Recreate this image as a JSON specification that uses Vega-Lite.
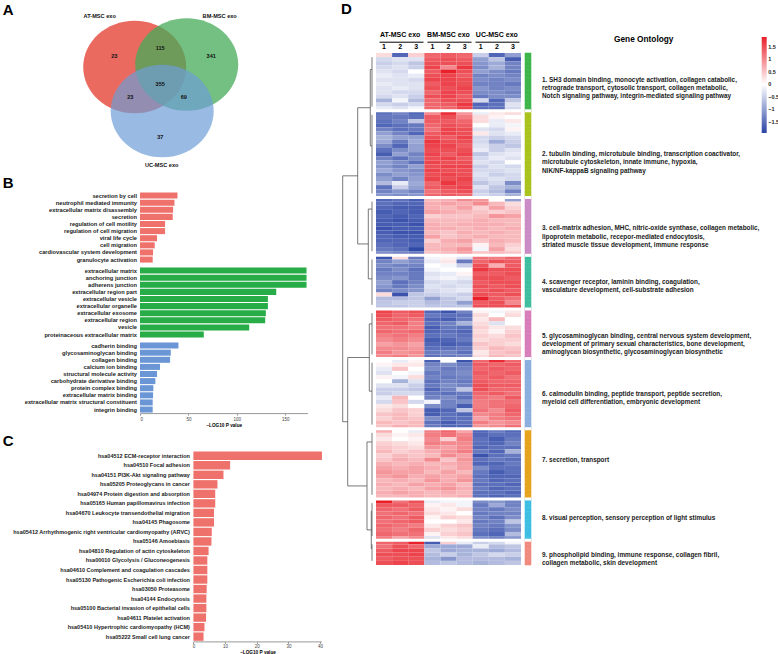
{
"$schema": "https://vega.github.io/schema/vega-lite/v6.json",
"padding": {"left": 2, "top": 2, "right": 0, "bottom": 0},
"config": {"view": {"stroke": null}, "font": "Liberation Sans", "axis": {"grid": false}, "title": {"fontSize": 15, "fontWeight": "bold", "color": "#000"}},
"datasets": {
"venn_sets": [
{"set": "AT-MSC exo", "cx": -0.52, "cy": 0.38, "lx": -1.22, "ly": 1.41},
{"set": "BM-MSC exo", "cx": 0.52, "cy": 0.43, "lx": 1.18, "ly": 1.41},
{"set": "UC-MSC exo", "cx": 0.03, "cy": -0.5, "lx": 0.02, "ly": -1.57}],
"venn_counts": [
{"region": "AT only", "n": 23, "lx": -0.93, "ly": 0.61},
{"region": "AT & BM", "n": 115, "lx": -0.01, "ly": 0.77},
{"region": "BM only", "n": 341, "lx": 1.01, "ly": 0.61},
{"region": "all", "n": 355, "lx": -0.01, "ly": 0.05},
{"region": "AT & UC", "n": 23, "lx": -0.61, "ly": -0.22},
{"region": "BM & UC", "n": 69, "lx": 0.46, "ly": -0.22},
{"region": "UC only", "n": 37, "lx": -0.01, "ly": -1.02}],
"go_bar": [
{"ont": "BP", "term": "secretion by cell", "v": 38.7},
{"ont": "BP", "term": "neutrophil mediated immunity", "v": 35.6},
{"ont": "BP", "term": "extracellular matrix disassembly", "v": 34.2},
{"ont": "BP", "term": "secretion", "v": 33.8},
{"ont": "BP", "term": "regulation of cell motility", "v": 25.9},
{"ont": "BP", "term": "regulation of cell migration", "v": 25.9},
{"ont": "BP", "term": "viral life cycle", "v": 17.6},
{"ont": "BP", "term": "cell migration", "v": 15.2},
{"ont": "BP", "term": "cardiovascular system development", "v": 13.5},
{"ont": "BP", "term": "granulocyte activation", "v": 13.1},
{"ont": "CC", "term": "extracellular matrix", "v": 172},
{"ont": "CC", "term": "anchoring junction", "v": 172},
{"ont": "CC", "term": "adherens junction", "v": 172},
{"ont": "CC", "term": "extracellular region part", "v": 140.7},
{"ont": "CC", "term": "extracellular vesicle", "v": 132.1},
{"ont": "CC", "term": "extracellular organelle", "v": 132.1},
{"ont": "CC", "term": "extracellular exosome", "v": 130},
{"ont": "CC", "term": "extracellular region", "v": 129.3},
{"ont": "CC", "term": "vesicle", "v": 112.8},
{"ont": "CC", "term": "proteinaceous extracellular matrix", "v": 65.9},
{"ont": "MF", "term": "cadherin binding", "v": 39.7},
{"ont": "MF", "term": "glycosaminoglycan binding", "v": 31.8},
{"ont": "MF", "term": "collagen binding", "v": 31.1},
{"ont": "MF", "term": "calcium ion binding", "v": 20.7},
{"ont": "MF", "term": "structural molecule activity", "v": 17.6},
{"ont": "MF", "term": "carbohydrate derivative binding", "v": 15.9},
{"ont": "MF", "term": "protein complex binding", "v": 13.8},
{"ont": "MF", "term": "extracellular matrix binding", "v": 13.5},
{"ont": "MF", "term": "extracellular matrix structural constituent", "v": 13.1},
{"ont": "MF", "term": "integrin binding", "v": 13.1}],
"kegg": [
{"t": "hsa04512 ECM-receptor interaction", "v": 40.6},
{"t": "hsa04510 Focal adhesion", "v": 11.6},
{"t": "hsa04151 PI3K-Akt signaling pathway", "v": 9.5},
{"t": "hsa05205 Proteoglycans in cancer", "v": 7.6},
{"t": "hsa04974 Protein digestion and absorption", "v": 6.9},
{"t": "hsa05165 Human papillomavirus infection", "v": 6.9},
{"t": "hsa04670 Leukocyte transendothelial migration", "v": 6.5},
{"t": "hsa04145 Phagosome", "v": 6.5},
{"t": "hsa05412 Arrhythmogenic right ventricular cardiomyopathy (ARVC)", "v": 5.8},
{"t": "hsa05146 Amoebiasis", "v": 5.7},
{"t": "hsa04810 Regulation of actin cytoskeleton", "v": 4.8},
{"t": "hsa00010 Glycolysis / Gluconeogenesis", "v": 4.4},
{"t": "hsa04610 Complement and coagulation cascades", "v": 4.4},
{"t": "hsa05130 Pathogenic Escherichia coli infection", "v": 4.4},
{"t": "hsa03050 Proteasome", "v": 4.2},
{"t": "hsa04144 Endocytosis", "v": 4.1},
{"t": "hsa05100 Bacterial invasion of epithelial cells", "v": 4.1},
{"t": "hsa04611 Platelet activation", "v": 4.0},
{"t": "hsa05410 Hypertrophic cardiomyopathy (HCM)", "v": 3.5},
{"t": "hsa05222 Small cell lung cancer", "v": 3.2}],
"dendro": [
{"h1": 0, "h2": 0, "y1": 1, "y2": 13},
{"h1": 0, "h2": 0, "y1": 15, "y2": 34},
{"h1": 0, "h2": 0, "y1": 36, "y2": 48},
{"h1": 0, "h2": 0, "y1": 50, "y2": 61},
{"h1": 0, "h2": 0, "y1": 63, "y2": 73},
{"h1": 0, "h2": 0, "y1": 75, "y2": 90},
{"h1": 0, "h2": 0, "y1": 92, "y2": 107},
{"h1": 0, "h2": 0, "y1": 109, "y2": 117},
{"h1": 0, "h2": 0, "y1": 119, "y2": 123},
{"h1": 0, "h2": 0.57, "y1": 4, "y2": 4},
{"h1": 0, "h2": 0.57, "y1": 22.5, "y2": 22.5},
{"h1": 0.57, "h2": 0.57, "y1": 4, "y2": 22.5},
{"h1": 0.57, "h2": 4.77, "y1": 13.25, "y2": 13.25},
{"h1": 0, "h2": 1.23, "y1": 37.8, "y2": 37.8},
{"h1": 0, "h2": 1.23, "y1": 54.7, "y2": 54.7},
{"h1": 1.23, "h2": 1.23, "y1": 37.8, "y2": 54.7},
{"h1": 1.23, "h2": 4.77, "y1": 46.25, "y2": 46.25},
{"h1": 4.77, "h2": 4.77, "y1": 13.25, "y2": 46.25},
{"h1": 4.77, "h2": 9.77, "y1": 29.75, "y2": 29.75},
{"h1": 0, "h2": 0.9, "y1": 65.6, "y2": 65.6},
{"h1": 0, "h2": 0.9, "y1": 81.9, "y2": 81.9},
{"h1": 0.9, "h2": 0.9, "y1": 65.6, "y2": 81.9},
{"h1": 0.9, "h2": 8.1, "y1": 73.75, "y2": 73.75},
{"h1": 0, "h2": 0.23, "y1": 111, "y2": 111},
{"h1": 0, "h2": 0.23, "y1": 120, "y2": 120},
{"h1": 0.23, "h2": 0.23, "y1": 111, "y2": 120},
{"h1": 0, "h2": 1.67, "y1": 94.2, "y2": 94.2},
{"h1": 0.23, "h2": 1.67, "y1": 115.5, "y2": 115.5},
{"h1": 1.67, "h2": 1.67, "y1": 94.2, "y2": 115.5},
{"h1": 1.67, "h2": 8.1, "y1": 104.85, "y2": 104.85},
{"h1": 8.1, "h2": 8.1, "y1": 73.75, "y2": 104.85},
{"h1": 8.1, "h2": 9.77, "y1": 89.3, "y2": 89.3},
{"h1": 9.77, "h2": 9.77, "y1": 29.75, "y2": 89.3}],
"seps": [{"id": "g014"}, {"id": "g035"}, {"id": "g049"}, {"id": "g062"}, {"id": "g074"}, {"id": "g091"}, {"id": "g108"}, {"id": "g118"}],
"golab": [
{"at": "g006", "lines": ["1. SH3 domain binding, monocyte activation, collagen catabolic,", "\u00a0\u00a0\u00a0\u00a0retrograde transport, cytosolic transport, collagen metabolic,", "\u00a0\u00a0\u00a0\u00a0Notch signaling pathway, integrin-mediated signaling pathway"]},
{"at": "g024", "lines": ["2. tubulin binding, microtubule binding, transcription coactivator,", "\u00a0\u00a0\u00a0\u00a0microtubule cytoskeleton,  innate immune, hypoxia,", "\u00a0\u00a0\u00a0\u00a0NIK/NF-kappaB signaling pathway"]},
{"at": "g042", "lines": ["3. cell-matrix adhesion, MHC, nitric-oxide synthase, collagen metabolic,", "\u00a0\u00a0\u00a0\u00a0lipoprotein metabolic, recepor-mediated endocytosis,", "\u00a0\u00a0\u00a0\u00a0striated muscle tissue development, immune response"]},
{"at": "g055", "lines": ["4. scavenger receptor, laminin binding,  coagulation,", "\u00a0\u00a0\u00a0\u00a0vasculature development, cell-substrate adhesion"]},
{"at": "g068", "lines": ["5. glycosaminoglycan binding, central nervous system development,", "\u00a0\u00a0\u00a0\u00a0development of primary sexual characteristics, bone development,", "\u00a0\u00a0\u00a0\u00a0aminoglycan biosynthetic, glycosaminoglycan biosynthetic"]},
{"at": "g082", "lines": ["6. calmodulin binding, peptide transport, peptide secretion,", "\u00a0\u00a0\u00a0\u00a0myeloid cell differentiation, embryonic development"]},
{"at": "g098", "lines": ["7. secretion, transport"]},
{"at": "g112", "lines": ["8. visual perception, sensory perception of light stimulus"]},
{"at": "g121", "lines": ["9. phospholipid binding, immune response, collagen fibril,", "\u00a0\u00a0\u00a0\u00a0collagen metabolic, skin development"]}],
"heat": [
{"id":"g000","c":1,"A1":0.3,"A2":-1.6,"A3":0.4,"B1":1.3,"B2":1.4,"B3":1.3,"U1":-0.5,"U2":-1.6,"U3":-1.0},
{"id":"g001","c":1,"A1":-0.4,"A2":-0.3,"A3":-0.3,"B1":1.4,"B2":1.5,"B3":1.4,"U1":-1.0,"U2":-0.6,"U3":-1.7},
{"id":"g002","c":1,"A1":-0.5,"A2":-0.4,"A3":-0.6,"B1":1.5,"B2":1.5,"B3":1.5,"U1":-1.1,"U2":-0.9,"U3":-1.3},
{"id":"g003","c":1,"A1":-0.4,"A2":-0.3,"A3":-0.5,"B1":1.6,"B2":1.0,"B3":1.7,"U1":-1.2,"U2":-0.8,"U3":-1.3},
{"id":"g004","c":1,"A1":-0.3,"A2":-0.4,"A3":0.0,"B1":1.4,"B2":1.9,"B3":1.5,"U1":-1.0,"U2":-1.2,"U3":-1.4},
{"id":"g005","c":1,"A1":-0.2,"A2":-0.3,"A3":-0.2,"B1":1.5,"B2":1.6,"B3":1.4,"U1":-1.3,"U2":-1.2,"U3":-1.3},
{"id":"g006","c":1,"A1":-0.3,"A2":-0.3,"A3":-0.4,"B1":1.6,"B2":1.6,"B3":1.5,"U1":-1.2,"U2":-1.3,"U3":-1.2},
{"id":"g007","c":1,"A1":-0.2,"A2":-0.3,"A3":-0.3,"B1":1.4,"B2":1.6,"B3":1.5,"U1":-1.3,"U2":-1.3,"U3":-1.4},
{"id":"g008","c":1,"A1":-0.3,"A2":-0.2,"A3":-0.3,"B1":1.5,"B2":1.5,"B3":1.6,"U1":-1.1,"U2":-1.3,"U3":-1.2},
{"id":"g009","c":1,"A1":-0.3,"A2":-0.4,"A3":-0.4,"B1":1.3,"B2":1.6,"B3":1.5,"U1":-1.2,"U2":-1.2,"U3":-1.3},
{"id":"g010","c":1,"A1":-0.4,"A2":-0.3,"A3":-0.5,"B1":1.5,"B2":1.6,"B3":1.4,"U1":-1.4,"U2":-1.2,"U3":-1.2},
{"id":"g011","c":1,"A1":-0.8,"A2":-0.1,"A3":-0.7,"B1":1.3,"B2":1.5,"B3":1.5,"U1":-0.4,"U2":-1.6,"U3":-0.6},
{"id":"g012","c":1,"A1":-0.4,"A2":-0.5,"A3":-0.4,"B1":1.3,"B2":1.4,"B3":1.7,"U1":-1.6,"U2":-1.5,"U3":-0.3},
{"id":"g013","c":1,"A1":-0.2,"A2":-0.3,"A3":-0.1,"B1":1.3,"B2":1.3,"B3":1.6,"U1":-1.5,"U2":-1.5,"U3":-0.4},
{"id":"g014","c":2,"A1":-1.5,"A2":-1.3,"A3":-1.6,"B1":1.0,"B2":1.8,"B3":0.9,"U1":-0.2,"U2":0.2,"U3":0.3},
{"id":"g015","c":2,"A1":-1.4,"A2":-1.4,"A3":-1.5,"B1":1.4,"B2":1.5,"B3":1.1,"U1":0.3,"U2":0.1,"U3":0.0},
{"id":"g016","c":2,"A1":-1.5,"A2":-1.3,"A3":-0.6,"B1":1.4,"B2":1.4,"B3":1.3,"U1":0.3,"U2":-0.2,"U3":0.2},
{"id":"g017","c":2,"A1":-1.6,"A2":-1.5,"A3":-1.4,"B1":1.3,"B2":1.5,"B3":1.4,"U1":0.0,"U2":-0.2,"U3":-0.1},
{"id":"g018","c":2,"A1":-1.3,"A2":-1.5,"A3":-1.4,"B1":1.2,"B2":1.6,"B3":1.5,"U1":-0.3,"U2":-0.4,"U3":0.1},
{"id":"g019","c":2,"A1":-1.0,"A2":-1.3,"A3":-1.6,"B1":1.4,"B2":1.6,"B3":1.5,"U1":0.2,"U2":-0.3,"U3":-0.2},
{"id":"g020","c":2,"A1":-0.8,"A2":-1.0,"A3":-1.0,"B1":1.5,"B2":1.4,"B3":1.6,"U1":-0.4,"U2":-0.5,"U3":-0.4},
{"id":"g021","c":2,"A1":-0.9,"A2":-1.4,"A3":-0.9,"B1":1.7,"B2":1.5,"B3":1.5,"U1":-0.4,"U2":-0.9,"U3":-0.5},
{"id":"g022","c":2,"A1":-1.2,"A2":-1.6,"A3":-1.0,"B1":1.6,"B2":1.6,"B3":1.4,"U1":-0.3,"U2":-0.5,"U3":-0.6},
{"id":"g023","c":2,"A1":-1.5,"A2":-1.2,"A3":-1.0,"B1":1.5,"B2":1.5,"B3":1.5,"U1":-0.2,"U2":-0.5,"U3":-0.3},
{"id":"g024","c":2,"A1":-1.7,"A2":-1.0,"A3":-1.3,"B1":1.6,"B2":1.4,"B3":1.6,"U1":-0.6,"U2":-0.3,"U3":-0.2},
{"id":"g025","c":2,"A1":-1.3,"A2":-1.5,"A3":-1.2,"B1":1.5,"B2":1.6,"B3":1.4,"U1":-0.4,"U2":-0.2,"U3":-0.3},
{"id":"g026","c":2,"A1":-1.0,"A2":-1.2,"A3":-1.5,"B1":1.6,"B2":1.5,"B3":1.5,"U1":-0.3,"U2":-0.4,"U3":0.0},
{"id":"g027","c":2,"A1":-1.1,"A2":-1.3,"A3":-1.0,"B1":1.5,"B2":1.6,"B3":1.6,"U1":-0.5,"U2":-0.3,"U3":-0.4},
{"id":"g028","c":2,"A1":-0.9,"A2":-1.1,"A3":-1.2,"B1":1.6,"B2":1.5,"B3":1.5,"U1":-0.4,"U2":-0.4,"U3":-0.3},
{"id":"g029","c":2,"A1":-1.2,"A2":-1.0,"A3":-1.1,"B1":1.5,"B2":1.6,"B3":1.5,"U1":-0.3,"U2":-0.5,"U3":-0.4},
{"id":"g030","c":2,"A1":-1.0,"A2":-1.3,"A3":-1.0,"B1":1.6,"B2":1.5,"B3":1.6,"U1":-0.4,"U2":-0.3,"U3":-0.4},
{"id":"g031","c":2,"A1":-0.7,"A2":-0.2,"A3":-0.9,"B1":1.3,"B2":1.7,"B3":1.5,"U1":-0.6,"U2":-0.4,"U3":-1.2},
{"id":"g032","c":2,"A1":-1.5,"A2":-0.5,"A3":-1.0,"B1":1.4,"B2":1.5,"B3":1.6,"U1":-0.3,"U2":-0.6,"U3":-0.8},
{"id":"g033","c":2,"A1":-1.3,"A2":-1.1,"A3":-1.3,"B1":1.2,"B2":1.4,"B3":1.5,"U1":-0.5,"U2":-0.7,"U3":-1.3},
{"id":"g034","c":2,"A1":-1.1,"A2":-1.2,"A3":-1.1,"B1":1.3,"B2":1.4,"B3":1.3,"U1":-0.4,"U2":-0.5,"U3":-0.8},
{"id":"g035","c":3,"A1":-1.6,"A2":-1.5,"A3":-1.7,"B1":0.6,"B2":0.7,"B3":1.0,"U1":0.9,"U2":0.0,"U3":-1.0},
{"id":"g036","c":3,"A1":-1.5,"A2":-1.6,"A3":-1.6,"B1":0.7,"B2":0.8,"B3":0.7,"U1":1.0,"U2":0.6,"U3":0.3},
{"id":"g037","c":3,"A1":-1.6,"A2":-1.7,"A3":-1.7,"B1":0.7,"B2":0.6,"B3":0.8,"U1":0.4,"U2":0.8,"U3":0.4},
{"id":"g038","c":3,"A1":-1.7,"A2":-1.6,"A3":-1.7,"B1":0.8,"B2":0.7,"B3":0.6,"U1":0.5,"U2":0.4,"U3":0.5},
{"id":"g039","c":3,"A1":-1.6,"A2":-1.7,"A3":-1.6,"B1":0.4,"B2":0.5,"B3":0.5,"U1":0.6,"U2":0.9,"U3":0.8},
{"id":"g040","c":3,"A1":-1.7,"A2":-1.8,"A3":-1.7,"B1":0.6,"B2":0.6,"B3":0.6,"U1":0.7,"U2":0.6,"U3":0.6},
{"id":"g041","c":3,"A1":-1.7,"A2":-1.7,"A3":-1.8,"B1":0.7,"B2":0.6,"B3":0.7,"U1":0.7,"U2":0.7,"U3":0.6},
{"id":"g042","c":3,"A1":-1.8,"A2":-1.7,"A3":-1.7,"B1":0.7,"B2":0.7,"B3":0.6,"U1":0.7,"U2":0.6,"U3":0.7},
{"id":"g043","c":3,"A1":-1.7,"A2":-1.8,"A3":-1.8,"B1":0.6,"B2":0.5,"B3":0.7,"U1":0.6,"U2":0.7,"U3":0.6},
{"id":"g044","c":3,"A1":-1.6,"A2":-1.7,"A3":-1.7,"B1":0.8,"B2":0.5,"B3":0.6,"U1":0.7,"U2":0.6,"U3":0.6},
{"id":"g045","c":3,"A1":-1.6,"A2":-1.6,"A3":-1.7,"B1":0.4,"B2":0.7,"B3":0.8,"U1":0.5,"U2":0.7,"U3":0.6},
{"id":"g046","c":3,"A1":-1.5,"A2":-1.6,"A3":-1.6,"B1":0.6,"B2":0.6,"B3":0.6,"U1":0.1,"U2":0.6,"U3":0.4},
{"id":"g047","c":3,"A1":-1.4,"A2":-1.5,"A3":-1.9,"B1":0.6,"B2":0.7,"B3":0.9,"U1":-0.1,"U2":0.8,"U3":0.3},
{"id":"g048","c":3,"A1":-1.2,"A2":-1.3,"A3":-1.4,"B1":0.5,"B2":0.6,"B3":0.8,"U1":0.5,"U2":0.6,"U3":0.5},
{"id":"g049","c":4,"A1":-1.8,"A2":0.3,"A3":-1.4,"B1":-0.1,"B2":0.1,"B3":-0.3,"U1":1.2,"U2":1.1,"U3":1.3},
{"id":"g050","c":4,"A1":-1.3,"A2":-1.0,"A3":-1.2,"B1":-0.2,"B2":0.2,"B3":-1.4,"U1":1.3,"U2":1.5,"U3":1.4},
{"id":"g051","c":4,"A1":-1.2,"A2":-1.3,"A3":-1.3,"B1":0.0,"B2":-0.1,"B3":-0.5,"U1":1.5,"U2":0.7,"U3":1.4},
{"id":"g052","c":4,"A1":-1.4,"A2":-1.2,"A3":-1.5,"B1":-0.1,"B2":0.0,"B3":0.0,"U1":1.7,"U2":1.5,"U3":1.5},
{"id":"g053","c":4,"A1":-1.3,"A2":-1.3,"A3":-1.4,"B1":-0.3,"B2":-0.2,"B3":0.1,"U1":1.4,"U2":1.4,"U3":1.5},
{"id":"g054","c":4,"A1":-1.2,"A2":-1.1,"A3":-1.4,"B1":-0.2,"B2":-0.1,"B3":-0.2,"U1":1.5,"U2":1.5,"U3":1.4},
{"id":"g055","c":4,"A1":-1.0,"A2":-1.5,"A3":-1.3,"B1":-0.4,"B2":-0.3,"B3":-0.4,"U1":1.4,"U2":1.5,"U3":1.5},
{"id":"g056","c":4,"A1":-1.1,"A2":-1.4,"A3":-1.2,"B1":-0.3,"B2":-0.4,"B3":-0.3,"U1":1.5,"U2":1.4,"U3":1.5},
{"id":"g057","c":4,"A1":-1.3,"A2":-1.2,"A3":-1.1,"B1":-0.4,"B2":-0.3,"B3":-0.2,"U1":1.4,"U2":1.5,"U3":1.4},
{"id":"g058","c":4,"A1":0.3,"A2":-1.8,"A3":-0.6,"B1":-0.5,"B2":-0.4,"B3":-0.5,"U1":1.5,"U2":1.4,"U3":1.5},
{"id":"g059","c":4,"A1":-0.7,"A2":-0.7,"A3":-0.6,"B1":-1.0,"B2":-0.6,"B3":-0.4,"U1":1.9,"U2":1.4,"U3":1.2},
{"id":"g060","c":4,"A1":-0.6,"A2":-0.5,"A3":-0.5,"B1":-0.7,"B2":-0.6,"B3":-1.0,"U1":1.4,"U2":1.5,"U3":1.0},
{"id":"g061","c":4,"A1":-0.6,"A2":-0.6,"A3":-0.5,"B1":-0.6,"B2":-0.6,"B3":-0.6,"U1":1.5,"U2":1.5,"U3":1.5},
{"id":"g062","c":5,"A1":1.6,"A2":1.4,"A3":1.5,"B1":-1.6,"B2":-1.8,"B3":-1.3,"U1":0.1,"U2":-0.1,"U3":0.2},
{"id":"g063","c":5,"A1":1.5,"A2":1.3,"A3":1.4,"B1":-1.4,"B2":-1.5,"B3":-1.5,"U1":0.3,"U2":0.0,"U3":0.3},
{"id":"g064","c":5,"A1":1.4,"A2":1.3,"A3":1.2,"B1":-1.6,"B2":-1.7,"B3":-1.4,"U1":0.2,"U2":0.6,"U3":0.0},
{"id":"g065","c":5,"A1":1.3,"A2":1.4,"A3":1.1,"B1":-1.5,"B2":-1.3,"B3":-0.8,"U1":0.3,"U2":-0.3,"U3":0.0},
{"id":"g066","c":5,"A1":1.2,"A2":1.2,"A3":1.1,"B1":-1.7,"B2":-1.4,"B3":-1.5,"U1":0.4,"U2":0.2,"U3":0.3},
{"id":"g067","c":5,"A1":1.3,"A2":1.2,"A3":1.3,"B1":-1.6,"B2":-1.5,"B3":-1.6,"U1":0.3,"U2":0.1,"U3":0.4},
{"id":"g068","c":5,"A1":1.1,"A2":1.2,"A3":1.1,"B1":-1.5,"B2":-1.4,"B3":-1.5,"U1":0.4,"U2":0.3,"U3":0.5},
{"id":"g069","c":5,"A1":1.0,"A2":1.1,"A3":1.0,"B1":-1.7,"B2":-1.6,"B3":-1.4,"U1":0.3,"U2":0.4,"U3":0.4},
{"id":"g070","c":5,"A1":0.8,"A2":0.9,"A3":0.8,"B1":-1.6,"B2":-1.7,"B3":-1.6,"U1":0.5,"U2":0.4,"U3":0.3},
{"id":"g071","c":5,"A1":1.0,"A2":1.0,"A3":0.9,"B1":-1.5,"B2":-1.5,"B3":-1.4,"U1":0.4,"U2":0.6,"U3":0.5},
{"id":"g072","c":5,"A1":1.1,"A2":0.9,"A3":1.0,"B1":-1.4,"B2":-1.3,"B3":-1.5,"U1":0.2,"U2":0.5,"U3":0.6},
{"id":"g073","c":5,"A1":1.0,"A2":1.1,"A3":0.9,"B1":-1.5,"B2":-1.4,"B3":-1.3,"U1":0.3,"U2":0.6,"U3":0.5},
{"id":"g074","c":6,"A1":0.0,"A2":-0.2,"A3":0.1,"B1":-1.7,"B2":0.0,"B3":-1.8,"U1":1.3,"U2":1.8,"U3":1.3},
{"id":"g075","c":6,"A1":0.1,"A2":0.2,"A3":0.2,"B1":-1.3,"B2":-1.2,"B3":-1.4,"U1":1.4,"U2":1.3,"U3":1.4},
{"id":"g076","c":6,"A1":-0.2,"A2":0.5,"A3":0.0,"B1":-1.2,"B2":-1.4,"B3":-1.3,"U1":1.3,"U2":1.4,"U3":1.3},
{"id":"g077","c":6,"A1":-0.3,"A2":0.0,"A3":-0.1,"B1":-1.4,"B2":-1.3,"B3":-1.2,"U1":1.4,"U2":1.3,"U3":1.4},
{"id":"g078","c":6,"A1":0.1,"A2":-0.1,"A3":0.3,"B1":-1.3,"B2":-1.4,"B3":-1.3,"U1":1.3,"U2":1.4,"U3":1.2},
{"id":"g079","c":6,"A1":0.0,"A2":-0.8,"A3":-0.3,"B1":-1.5,"B2":-1.3,"B3":-1.4,"U1":1.4,"U2":1.3,"U3":1.3},
{"id":"g080","c":6,"A1":-0.3,"A2":-0.3,"A3":-0.5,"B1":-1.4,"B2":-1.2,"B3":-1.3,"U1":1.5,"U2":1.4,"U3":1.4},
{"id":"g081","c":6,"A1":-0.5,"A2":-0.5,"A3":-0.6,"B1":-1.6,"B2":-1.3,"B3":-0.6,"U1":1.5,"U2":1.3,"U3":1.3},
{"id":"g082","c":6,"A1":-0.5,"A2":-0.4,"A3":-0.4,"B1":-1.4,"B2":-1.5,"B3":-1.4,"U1":1.3,"U2":1.4,"U3":1.2},
{"id":"g083","c":6,"A1":-0.2,"A2":0.6,"A3":0.0,"B1":-1.3,"B2":-1.2,"B3":-1.5,"U1":1.2,"U2":1.1,"U3":1.4},
{"id":"g084","c":6,"A1":-0.4,"A2":0.5,"A3":-0.4,"B1":-0.1,"B2":-1.3,"B3":-1.2,"U1":1.1,"U2":1.2,"U3":1.2},
{"id":"g085","c":6,"A1":0.2,"A2":0.3,"A3":0.0,"B1":-1.2,"B2":-1.3,"B3":-1.7,"U1":1.1,"U2":1.2,"U3":1.3},
{"id":"g086","c":6,"A1":0.3,"A2":0.5,"A3":0.4,"B1":-1.7,"B2":-1.6,"B3":-0.6,"U1":1.2,"U2":1.0,"U3":1.4},
{"id":"g087","c":6,"A1":0.5,"A2":0.6,"A3":0.4,"B1":-1.7,"B2":-1.5,"B3":-1.6,"U1":1.0,"U2":1.1,"U3":1.3},
{"id":"g088","c":6,"A1":0.4,"A2":0.6,"A3":0.5,"B1":-1.2,"B2":-1.5,"B3":-1.5,"U1":0.8,"U2":1.1,"U3":1.2},
{"id":"g089","c":6,"A1":0.6,"A2":0.5,"A3":0.6,"B1":-1.5,"B2":-1.7,"B3":-1.5,"U1":1.1,"U2":0.9,"U3":1.0},
{"id":"g090","c":6,"A1":0.5,"A2":0.7,"A3":0.6,"B1":-1.4,"B2":-1.6,"B3":-1.6,"U1":0.9,"U2":1.0,"U3":1.2},
{"id":"g091","c":7,"A1":0.7,"A2":0.0,"A3":-0.2,"B1":1.1,"B2":1.3,"B3":0.8,"U1":-1.6,"U2":-1.4,"U3":-1.6},
{"id":"g092","c":7,"A1":0.3,"A2":0.1,"A3":0.2,"B1":1.1,"B2":1.2,"B3":1.0,"U1":-1.6,"U2":-1.5,"U3":-1.5},
{"id":"g093","c":7,"A1":0.2,"A2":0.0,"A3":0.1,"B1":1.0,"B2":0.4,"B3":1.1,"U1":-1.5,"U2":-1.7,"U3":-1.4},
{"id":"g094","c":7,"A1":0.4,"A2":0.3,"A3":0.2,"B1":1.1,"B2":1.0,"B3":1.0,"U1":-1.5,"U2":-1.6,"U3":-1.3},
{"id":"g095","c":7,"A1":0.5,"A2":0.4,"A3":0.3,"B1":0.9,"B2":0.8,"B3":1.0,"U1":-1.6,"U2":-1.5,"U3":-1.5},
{"id":"g096","c":7,"A1":0.6,"A2":0.4,"A3":0.5,"B1":0.7,"B2":0.9,"B3":1.1,"U1":-1.4,"U2":-1.6,"U3":-0.8},
{"id":"g097","c":7,"A1":0.4,"A2":0.6,"A3":0.5,"B1":0.6,"B2":1.0,"B3":0.8,"U1":-1.8,"U2":-1.5,"U3":-1.4},
{"id":"g098","c":7,"A1":0.5,"A2":0.7,"A3":0.6,"B1":1.0,"B2":0.5,"B3":0.9,"U1":-1.5,"U2":-1.4,"U3":-1.5},
{"id":"g099","c":7,"A1":0.7,"A2":0.6,"A3":0.7,"B1":0.6,"B2":0.7,"B3":0.8,"U1":-1.6,"U2":-1.6,"U3":-1.4},
{"id":"g100","c":7,"A1":0.8,"A2":0.7,"A3":0.8,"B1":0.7,"B2":0.6,"B3":0.8,"U1":-1.2,"U2":-1.5,"U3":-1.5},
{"id":"g101","c":7,"A1":0.9,"A2":0.8,"A3":0.8,"B1":0.6,"B2":0.8,"B3":0.6,"U1":-1.4,"U2":-1.7,"U3":-1.5},
{"id":"g102","c":7,"A1":0.8,"A2":0.9,"A3":0.7,"B1":0.8,"B2":0.7,"B3":0.8,"U1":-1.5,"U2":-1.6,"U3":-1.6},
{"id":"g103","c":7,"A1":0.6,"A2":0.7,"A3":0.6,"B1":0.9,"B2":0.7,"B3":0.9,"U1":-1.4,"U2":-1.6,"U3":-1.5},
{"id":"g104","c":7,"A1":0.7,"A2":0.6,"A3":0.8,"B1":0.7,"B2":0.8,"B3":0.6,"U1":-1.5,"U2":-1.5,"U3":-1.6},
{"id":"g105","c":7,"A1":0.6,"A2":0.7,"A3":0.6,"B1":0.8,"B2":0.9,"B3":0.7,"U1":-1.4,"U2":-1.6,"U3":-1.5},
{"id":"g106","c":7,"A1":0.7,"A2":0.8,"A3":0.7,"B1":0.6,"B2":0.7,"B3":0.6,"U1":-1.5,"U2":-1.5,"U3":-1.6},
{"id":"g107","c":7,"A1":0.6,"A2":0.6,"A3":0.7,"B1":0.6,"B2":0.6,"B3":0.7,"U1":-1.5,"U2":-1.6,"U3":-1.5},
{"id":"g108","c":8,"A1":1.9,"A2":1.2,"A3":1.5,"B1":-0.2,"B2":-0.1,"B3":-0.1,"U1":-1.2,"U2":-1.1,"U3":-1.3},
{"id":"g109","c":8,"A1":1.4,"A2":1.4,"A3":1.3,"B1":0.1,"B2":0.2,"B3":-0.1,"U1":-1.4,"U2":-0.9,"U3":-1.3},
{"id":"g110","c":8,"A1":1.3,"A2":1.2,"A3":1.4,"B1":0.2,"B2":0.1,"B3":0.3,"U1":-1.3,"U2":-1.4,"U3":-1.2},
{"id":"g111","c":8,"A1":1.2,"A2":1.3,"A3":1.2,"B1":0.3,"B2":0.2,"B3":0.0,"U1":-1.4,"U2":-1.3,"U3":-1.3},
{"id":"g112","c":8,"A1":1.3,"A2":1.2,"A3":1.4,"B1":0.1,"B2":0.4,"B3":0.3,"U1":-1.3,"U2":-1.5,"U3":-1.2},
{"id":"g113","c":8,"A1":1.2,"A2":1.3,"A3":1.4,"B1":0.0,"B2":0.0,"B3":0.2,"U1":-1.4,"U2":-1.3,"U3":-0.6},
{"id":"g114","c":8,"A1":1.3,"A2":1.2,"A3":1.1,"B1":0.2,"B2":0.4,"B3":0.5,"U1":-1.3,"U2":-1.4,"U3":-1.1},
{"id":"g115","c":8,"A1":1.2,"A2":1.1,"A3":1.3,"B1":0.4,"B2":0.3,"B3":0.4,"U1":-1.4,"U2":-1.5,"U3":-1.2},
{"id":"g116","c":8,"A1":1.3,"A2":1.2,"A3":1.2,"B1":0.1,"B2":0.4,"B3":0.5,"U1":-1.5,"U2":-1.6,"U3":-0.7},
{"id":"g117","c":8,"A1":1.1,"A2":0.8,"A3":1.0,"B1":-0.3,"B2":0.2,"B3":0.3,"U1":-1.2,"U2":-1.3,"U3":-1.1},
{"id":"g118","c":9,"A1":1.3,"A2":1.4,"A3":1.9,"B1":-1.7,"B2":0.4,"B3":-0.2,"U1":-0.5,"U2":-0.4,"U3":-0.1},
{"id":"g119","c":9,"A1":1.2,"A2":1.5,"A3":1.3,"B1":-0.9,"B2":-0.9,"B3":-0.9,"U1":-0.2,"U2":-0.7,"U3":-0.6},
{"id":"g120","c":9,"A1":1.4,"A2":1.6,"A3":1.6,"B1":-0.6,"B2":-0.9,"B3":-0.8,"U1":-0.8,"U2":-0.9,"U3":-0.7},
{"id":"g121","c":9,"A1":1.5,"A2":1.5,"A3":1.6,"B1":-0.7,"B2":-0.5,"B3":-0.8,"U1":-0.6,"U2":-0.4,"U3":-0.5},
{"id":"g122","c":9,"A1":1.4,"A2":1.5,"A3":1.5,"B1":-0.8,"B2":-1.1,"B3":-0.7,"U1":-0.7,"U2":-0.7,"U3":-0.8},
{"id":"g123","c":9,"A1":1.5,"A2":1.6,"A3":1.5,"B1":-0.7,"B2":-0.6,"B3":-0.7,"U1":-0.8,"U2":-0.7,"U3":-0.6}]
},
"concat": [
{
"vconcat": [
{
"width": 180.7, "height": 118,
"title": {"text": "A", "anchor": "start", "frame": "group", "dx": -137.3, "offset": -4.3},
"layer": [
{"data": {"name": "venn_sets"},
 "mark": {"type": "point", "filled": true, "shape": "M-1,0A1,0.9,0,1,1,1,0A1,0.9,0,1,1,-1,0Z", "size": 10609, "strokeWidth": 0},
 "encoding": {
  "x": {"field": "cx", "type": "quantitative", "scale": {"domain": [-0.414, 3.2], "nice": false, "zero": false}, "axis": null},
  "y": {"field": "cy", "type": "quantitative", "scale": {"domain": [-1.7, 0.66], "nice": false, "zero": false}, "axis": null},
  "color": {"field": "set", "type": "nominal", "scale": {"domain": ["AT-MSC exo", "BM-MSC exo", "UC-MSC exo"], "range": ["#E54538", "#44AB58", "#6E9DD5"]}, "legend": null},
  "opacity": {"field": "set", "type": "nominal", "scale": {"domain": ["AT-MSC exo", "BM-MSC exo", "UC-MSC exo"], "range": [0.8, 0.7, 0.6]}, "legend": null}}},
{"data": {"name": "venn_sets"},
 "mark": {"type": "text", "fontSize": 5.6, "fontWeight": "bold", "color": "#111"},
 "encoding": {"x": {"field": "lx", "type": "quantitative"}, "y": {"field": "ly", "type": "quantitative"}, "text": {"field": "set", "type": "nominal"}}},
{"data": {"name": "venn_counts"},
 "mark": {"type": "text", "fontSize": 5.5, "fontWeight": "bold", "color": "#111"},
 "encoding": {"x": {"field": "lx", "type": "quantitative"}, "y": {"field": "ly", "type": "quantitative"}, "text": {"field": "n", "type": "quantitative"}}}
]
},
{
"vconcat": [
{"title": {"text": "B", "anchor": "start", "frame": "group", "dx": -137.3, "offset": 1},
 "width": 167.5, "height": 71.1,
 "data": {"name": "go_bar"}, "transform": [{"filter": "datum.ont == 'BP'"}],
 "mark": {"type": "bar", "color": "#EE726B"},
 "encoding": {
  "y": {"field": "term", "type": "nominal", "sort": null, "scale": {"paddingInner": 0.15, "paddingOuter": 0.075}, "axis": {"title": null, "ticks": false, "domain": false, "labelFontSize": 5.7, "labelFontWeight": "bold", "labelPadding": 3.5, "labelColor": "#1a1a1a", "labelLimit": 300}},
  "x": {"field": "v", "type": "quantitative", "scale": {"domain": [0, 173], "nice": false}, "axis": null}}},
{"width": 167.5, "height": 71.1,
 "data": {"name": "go_bar"}, "transform": [{"filter": "datum.ont == 'CC'"}],
 "mark": {"type": "bar", "color": "#27AC47"},
 "encoding": {
  "y": {"field": "term", "type": "nominal", "sort": null, "scale": {"paddingInner": 0.15, "paddingOuter": 0.075}, "axis": {"title": null, "ticks": false, "domain": false, "labelFontSize": 5.7, "labelFontWeight": "bold", "labelPadding": 3.5, "labelColor": "#1a1a1a", "labelLimit": 300}},
  "x": {"field": "v", "type": "quantitative", "scale": {"domain": [0, 173], "nice": false}, "axis": null}}},
{"width": 167.5, "height": 71.1,
 "data": {"name": "go_bar"}, "transform": [{"filter": "datum.ont == 'MF'"}],
 "mark": {"type": "bar", "color": "#6A96D6"},
 "encoding": {
  "y": {"field": "term", "type": "nominal", "sort": null, "scale": {"paddingInner": 0.15, "paddingOuter": 0.075}, "axis": {"title": null, "ticks": false, "domain": false, "labelFontSize": 5.7, "labelFontWeight": "bold", "labelPadding": 3.5, "labelColor": "#1a1a1a", "labelLimit": 300}},
  "x": {"field": "v", "type": "quantitative", "scale": {"domain": [0, 173], "nice": false}, "axis": {"values": [0, 50, 100, 150], "title": "\u2212LOG10 P value", "titleFontSize": 4.7, "titleFontWeight": "bold", "titlePadding": 2, "labelFontSize": 4.5, "labelPadding": 1, "tickSize": 2, "domainColor": "#999", "tickColor": "#999", "labelColor": "#444"}}}}
],
"spacing": 3,
"resolve": {"scale": {"x": "independent", "y": "independent"}}
},
{"title": {"text": "C", "anchor": "start", "frame": "group", "dx": -137.3, "offset": 2.5},
 "width": 181.4, "height": 190.4,
 "data": {"name": "kegg"},
 "mark": {"type": "bar", "color": "#EE726B"},
 "encoding": {
  "y": {"field": "t", "type": "nominal", "sort": null, "scale": {"paddingInner": 0.12, "paddingOuter": 0.06}, "axis": {"title": null, "ticks": false, "domain": false, "labelFontSize": 5.5, "labelFontWeight": "bold", "labelPadding": -49.4, "labelColor": "#1a1a1a", "labelLimit": 300}},
  "x": {"field": "v", "type": "quantitative", "scale": {"domain": [-16.86, 40.42], "nice": false, "zero": false}, "axis": {"values": [0, 10, 20, 30, 40], "title": "\u2212LOG10 P value", "titleFontSize": 4.7, "titleFontWeight": "bold", "titlePadding": 1, "titleX": 117.5, "labelFontSize": 4.5, "labelPadding": 0.5, "tickSize": 2, "domainColor": "#999", "domainDash": [0, 53.4, 128, 1000], "tickColor": "#999", "labelColor": "#444"}}}}
],
"spacing": 5,
"resolve": {"scale": {"x": "independent", "y": "independent", "color": "independent", "opacity": "independent"}}
},
{
"hconcat": [
{"title": {"text": "D", "anchor": "start", "frame": "group", "dx": 2, "offset": 36},
 "width": 33, "height": 512,
 "data": {"name": "dendro"},
 "mark": {"type": "rule", "color": "#555", "strokeWidth": 0.8},
 "encoding": {
  "x": {"field": "h1", "type": "quantitative", "scale": {"domain": [0, 11], "reverse": true, "nice": false, "zero": false}, "axis": null},
  "x2": {"field": "h2"},
  "y": {"field": "y1", "type": "quantitative", "scale": {"domain": [0, 124], "reverse": true, "nice": false, "zero": false}, "axis": null},
  "y2": {"field": "y2"}}},
{"width": 145, "height": 512,
 "layer": [
 {"data": {"name": "heat"},
  "transform": [{"fold": ["A1", "A2", "A3", "B1", "B2", "B3", "U1", "U2", "U3"], "as": ["s", "v"]}],
  "mark": {"type": "rect"},
  "encoding": {
   "x": {"field": "s", "type": "nominal", "scale": {"domain": ["A1", "A2", "A3", "B1", "B2", "B3", "U1", "U2", "U3"], "paddingInner": 0, "paddingOuter": 0},
         "axis": {"orient": "top", "title": null, "ticks": false, "tickSize": 0, "domain": true, "domainColor": "#000", "domainWidth": 1, "domainDash": [44, 4], "domainDashOffset": 45, "offset": 11.3, "labelPadding": 4.7, "labelFontSize": 7, "labelFontWeight": "bold", "labelLineHeight": 12.7, "labelAngle": 0, "labelOverlap": false, "labelBound": false, "labelColor": "#000",
                  "labelExpr": "substring(datum.value,1,2)=='2' ? [(substring(datum.value,0,1)=='A' ? 'AT-MSC exo' : (substring(datum.value,0,1)=='B' ? 'BM-MSC exo' : 'UC-MSC exo')), '2'] : ['', substring(datum.value,1,2)]"}},
   "y": {"field": "id", "type": "nominal", "scale": {"paddingInner": 0, "paddingOuter": 0}, "axis": null},
   "color": {"field": "v", "type": "quantitative", "scale": {"domain": [-1.95, 0, 1.9], "range": ["#2B45A6", "#FFFFFF", "#E8202A"], "interpolate": "rgb"},
             "legend": {"orient": "none", "legendX": 385.7, "legendY": -16, "direction": "vertical", "gradientLength": 96, "gradientThickness": 5, "values": [1.5, 1, 0.5, 0, -0.5, -1, -1.5], "format": ".1~f", "labelFontSize": 5.5, "labelFontWeight": "bold", "labelColor": "#222", "title": null, "padding": 0, "labelOffset": 1.5, "gradientStrokeWidth": 0}}}},
 {"data": {"name": "seps"},
  "mark": {"type": "rule", "color": "#FFFFFF", "strokeWidth": 3},
  "encoding": {"y": {"field": "id", "type": "nominal", "bandPosition": 0}}}
 ]},
{"width": 6, "height": 512,
 "title": {"text": "Gene Ontology", "fontSize": 8.3, "fontWeight": "bold", "anchor": "start", "frame": "group", "dx": 89, "offset": 9},
 "layer": [
 {"data": {"name": "heat"},
  "mark": {"type": "rect", "strokeWidth": 0.6},
  "encoding": {
   "y": {"field": "id", "type": "nominal", "scale": {"paddingInner": 0, "paddingOuter": 0}, "axis": null},
   "color": {"field": "c", "type": "nominal", "scale": {"domain": [1, 2, 3, 4, 5, 6, 7, 8, 9], "range": ["#3DB54A", "#A9C21C", "#C98CC4", "#3EBE9E", "#D77DBA", "#8AAEDE", "#E5A31D", "#3DBEE2", "#F08A7E"]}, "legend": null},
   "stroke": {"field": "c", "type": "nominal", "scale": {"domain": [1, 2, 3, 4, 5, 6, 7, 8, 9], "range": ["#3DB54A", "#A9C21C", "#C98CC4", "#3EBE9E", "#D77DBA", "#8AAEDE", "#E5A31D", "#3DBEE2", "#F08A7E"]}, "legend": null}}},
 {"data": {"name": "seps"},
  "mark": {"type": "rule", "color": "#FFFFFF", "strokeWidth": 3},
  "encoding": {"y": {"field": "id", "type": "nominal", "bandPosition": 0}}},
 {"data": {"name": "golab"},
  "mark": {"type": "text", "align": "left", "baseline": "middle", "fontSize": 6.4, "fontWeight": "bold", "lineHeight": 8.3, "dx": 11, "color": "#1a1a1a"},
  "encoding": {
   "y": {"field": "at", "type": "nominal"},
   "x": {"datum": 1, "type": "quantitative", "scale": {"domain": [0, 1]}, "axis": null},
   "text": {"field": "lines", "type": "nominal"}}}
 ]}
],
"spacing": 4,
"bounds": "flush",
"resolve": {"scale": {"x": "independent", "y": "independent", "color": "independent", "stroke": "independent"}}
}
],
"columns": 2,
"spacing": 16,
"resolve": {"scale": {"x": "independent", "y": "independent", "color": "independent", "opacity": "independent", "stroke": "independent"}}
}
